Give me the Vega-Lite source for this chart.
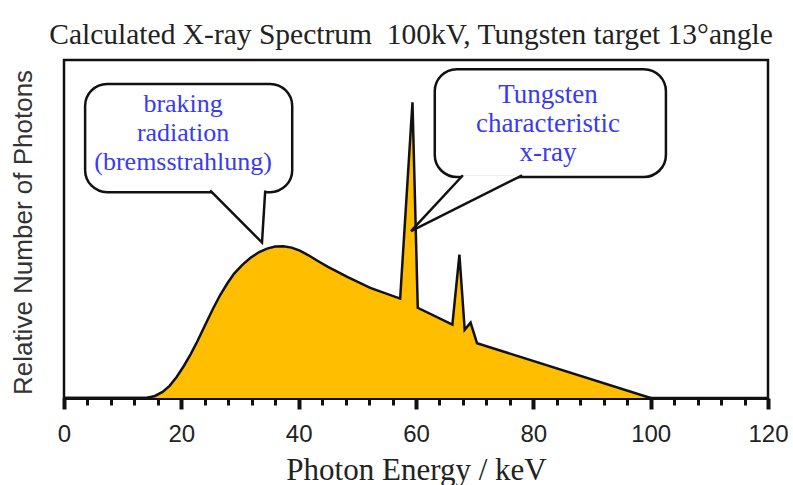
{
  "$schema": "https://vega.github.io/schema/vega-lite/v6.json",
  "width": 704,
  "height": 338,
  "autosize": {"type": "none"},
  "padding": {"left": 64, "top": 60, "right": 25, "bottom": 87},
  "background": "white",
  "config": {
    "view": {"stroke": "#111", "strokeWidth": 2.5},
    "font": "Liberation Serif"
  },
  "title": {
    "text": "Calculated X-ray Spectrum\u00a0 100kV, Tungsten target 13°angle",
    "font": "Liberation Serif",
    "fontSize": 29.5,
    "fontWeight": "normal",
    "color": "#222",
    "anchor": "middle",
    "baseline": "alphabetic",
    "offset": 16,
    "dy": 29,
    "dx": -5
  },
  "datasets": {
    "spectrum": [
      {"keV": 0, "val": 0},
      {"keV": 14.0, "val": 0},
      {"keV": 15.5, "val": 0.6},
      {"keV": 16.8, "val": 1.8},
      {"keV": 18.0, "val": 3.6},
      {"keV": 19.2, "val": 6.2},
      {"keV": 20.4, "val": 9.4},
      {"keV": 21.6, "val": 13.0},
      {"keV": 22.8, "val": 17.0},
      {"keV": 24.0, "val": 21.4},
      {"keV": 25.4, "val": 26.4},
      {"keV": 26.6, "val": 30.4},
      {"keV": 27.8, "val": 33.8},
      {"keV": 29.0, "val": 36.8},
      {"keV": 30.4, "val": 39.4},
      {"keV": 31.8, "val": 41.5},
      {"keV": 33.2, "val": 43.1},
      {"keV": 34.6, "val": 44.2},
      {"keV": 36.0, "val": 44.8},
      {"keV": 37.4, "val": 44.9},
      {"keV": 38.8, "val": 44.5},
      {"keV": 40.2, "val": 43.6},
      {"keV": 41.6, "val": 42.3},
      {"keV": 43.2, "val": 40.6},
      {"keV": 45.0, "val": 38.8},
      {"keV": 48.2, "val": 35.9},
      {"keV": 52.2, "val": 32.6},
      {"keV": 57.3, "val": 29.4},
      {"keV": 59.4, "val": 87.5},
      {"keV": 60.3, "val": 26.7},
      {"keV": 66.2, "val": 21.7},
      {"keV": 67.4, "val": 42.4},
      {"keV": 68.3, "val": 20.2},
      {"keV": 69.3, "val": 22.3},
      {"keV": 70.4, "val": 16.2},
      {"keV": 100, "val": 0}
    ],
    "bubbles": [
      {"id": "b1", "keV": 3.6, "keV2": 38.9, "val": 92.9, "val2": 60.9},
      {"id": "b2", "keV": 63.2, "keV2": 102.6, "val": 97.3, "val2": 65.4}
    ],
    "tails": [
      {"id": "b1", "seq": 1, "keV": 24.9, "val": 61.4},
      {"id": "b1", "seq": 2, "keV": 33.75, "val": 46.0},
      {"id": "b1", "seq": 3, "keV": 34.3, "val": 61.4},
      {"id": "b2", "seq": 1, "keV": 68.0, "val": 65.9},
      {"id": "b2", "seq": 2, "keV": 59.15, "val": 49.4},
      {"id": "b2", "seq": 3, "keV": 78.1, "val": 65.9}
    ],
    "notes": [
      {"id": "b1", "keV": 20.3, "val": 84.6, "size": 26, "label": ["braking", "radiation", "(bremsstrahlung)"]},
      {"id": "b2", "keV": 82.5, "val": 87.3, "size": 27, "label": ["Tungsten", "characteristic", "x-ray"]}
    ]
  },
  "resolve": {"axis": {"x": "independent"}},
  "layer": [
    {
      "data": {"name": "spectrum"},
      "mark": {
        "type": "area",
        "color": "#FFBE00",
        "opacity": 1,
        "line": {"color": "#111", "strokeWidth": 2.5},
        "interpolate": "linear"
      },
      "encoding": {
        "x": {
          "field": "keV",
          "type": "quantitative",
          "scale": {"domain": [0, 120], "nice": false},
          "axis": {
            "orient": "bottom",
            "title": "Photon Energy / keV",
            "titleFont": "Liberation Serif",
            "titleFontSize": 31,
            "titleFontWeight": "normal",
            "titleColor": "#222",
            "titleBaseline": "alphabetic",
            "titleAlign": "center",
            "titleAnchor": "middle",
            "titleX": 352,
            "titleY": 81,
            "values": [0, 20, 40, 60, 80, 100, 120],
            "labelFont": "Liberation Sans",
            "labelFontSize": 24,
            "labelColor": "#222",
            "labelBaseline": "alphabetic",
            "labelPadding": 32,
            "labelFlush": false,
            "labelOverlap": false,
            "grid": false,
            "domainColor": "#111",
            "domainWidth": 3,
            "tickColor": "#111",
            "tickSize": 11,
            "tickWidth": 4
          }
        },
        "y": {
          "field": "val",
          "type": "quantitative",
          "scale": {"domain": [0, 100], "nice": false},
          "axis": {
            "title": "Relative Number of Photons",
            "titleFont": "Liberation Sans",
            "titleFontSize": 26,
            "titleFontWeight": "normal",
            "titleColor": "#333",
            "titleAngle": -90,
            "titleBaseline": "middle",
            "titleAnchor": "middle",
            "titleAlign": "center",
            "titleX": -41,
            "titleY": 172,
            "domain": false,
            "ticks": false,
            "labels": false,
            "grid": false
          }
        }
      }
    },
    {
      "data": {"name": "bubbles"},
      "mark": {"type": "rect", "fill": "white", "stroke": "#111", "strokeWidth": 2.5, "cornerRadius": 22},
      "encoding": {
        "x": {
          "field": "keV",
          "type": "quantitative",
          "scale": {"domain": [0, 120], "nice": false},
          "axis": {
            "orient": "bottom",
            "title": null,
            "values": [4, 8, 12, 16, 24, 28, 32, 36, 44, 48, 52, 56, 64, 68, 72, 76, 84, 88, 92, 96, 104, 108, 112, 116],
            "labels": false,
            "domain": false,
            "grid": false,
            "tickColor": "#111",
            "tickSize": 7,
            "tickWidth": 3
          }
        },
        "x2": {"field": "keV2"},
        "y": {"field": "val", "type": "quantitative"},
        "y2": {"field": "val2"}
      }
    },
    {
      "data": {"name": "tails"},
      "mark": {"type": "line", "fill": "white", "stroke": "#111", "strokeWidth": 2.5, "strokeJoin": "miter", "interpolate": "linear"},
      "encoding": {
        "x": {"field": "keV", "type": "quantitative", "axis": null},
        "y": {"field": "val", "type": "quantitative"},
        "detail": {"field": "id"},
        "order": {"field": "seq"}
      }
    },
    {
      "data": {"name": "notes"},
      "mark": {"type": "text", "font": "Liberation Serif", "color": "#3a3af2", "align": "center", "baseline": "alphabetic", "lineHeight": 29},
      "encoding": {
        "x": {"field": "keV", "type": "quantitative", "axis": null},
        "y": {"field": "val", "type": "quantitative"},
        "text": {"field": "label"},
        "size": {"field": "size", "type": "quantitative", "scale": null}
      }
    }
  ]
}
